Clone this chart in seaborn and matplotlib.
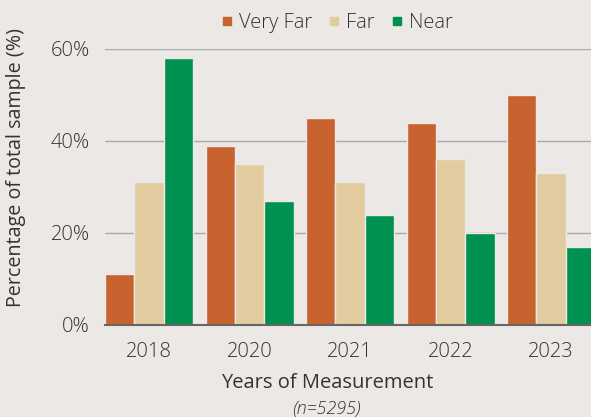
import pandas as pd
import seaborn as sns
import matplotlib.pyplot as plt
from matplotlib.lines import Line2D

years = ["2018", "2020", "2021", "2022", "2023"]
groups = ["Very Far", "Far", "Near"]
very_far = [11, 39, 45, 44, 50]
far = [31, 35, 31, 36, 33]
near = [58, 27, 24, 20, 17]
colors = ["#c8622f", "#e3cba0", "#00904f"]

df = pd.DataFrame({
    "year": years * 3,
    "group": [g for g in groups for _ in years],
    "pct": very_far + far + near,
})

sns.set_style("white")
plt.rcParams["font.family"] = ["Open Sans", "DejaVu Sans"]
plt.rcParams["font.weight"] = "light"
bg = "#ece8e5"
txt = "#333333"

fig = plt.figure(figsize=(5.91, 4.17), dpi=100, facecolor=bg)
ax = fig.add_axes([105 / 591, 92 / 417, 502.5 / 591, 276 / 417])
ax.set_facecolor(bg)

sns.barplot(data=df, x="year", y="pct", hue="group", hue_order=groups,
            palette=colors, width=0.88, saturation=1, edgecolor=bg,
            linewidth=1, legend=False, ax=ax, zorder=3)

ax.set_xlim(-0.44, 4.56)
ax.set_ylim(0, 60)
ax.set_yticks([0, 20, 40, 60])
ax.set_yticklabels(["0%", "20%", "40%", "60%"])
ax.yaxis.grid(True, color="#aaaaaa", linewidth=1, zorder=0)
ax.set_axisbelow(True)
for s in ["top", "right", "left"]:
    ax.spines[s].set_visible(False)
ax.spines["bottom"].set_color("#666666")
ax.spines["bottom"].set_linewidth(1.5)
ax.spines["bottom"].set_zorder(5)
ax.tick_params(length=0, labelsize=14.5, labelcolor=txt)
ax.tick_params(axis="x", pad=12)
ax.tick_params(axis="y", pad=11)

# labels placed to match the cropped original layout
ax.set_ylabel("Percentage of total sample (%)", fontsize=14.2, color=txt, va="center")
ax.yaxis.set_label_coords(-0.177, 0.572)
ax.set_xlabel("Years of Measurement", fontsize=14.5, color=txt, va="center")
ax.xaxis.set_label_coords(0.442, (325 - 383) / 276)
fig.text(326 / 591, 1 - 409 / 417, "(n=5295)", fontsize=13, style="italic",
         color=txt, ha="center", va="center")

handles = [Line2D([], [], marker="s", linestyle="", color=c, markersize=6) for c in colors]
fig.legend(handles, groups, loc="center", bbox_to_anchor=(335 / 591, 1 - 23 / 417),
           ncol=3, frameon=False, fontsize=14.5, handletextpad=0.1, columnspacing=0.6,
           labelcolor=txt, handlelength=1)

fig.savefig("out.png", dpi=100, facecolor=bg)
